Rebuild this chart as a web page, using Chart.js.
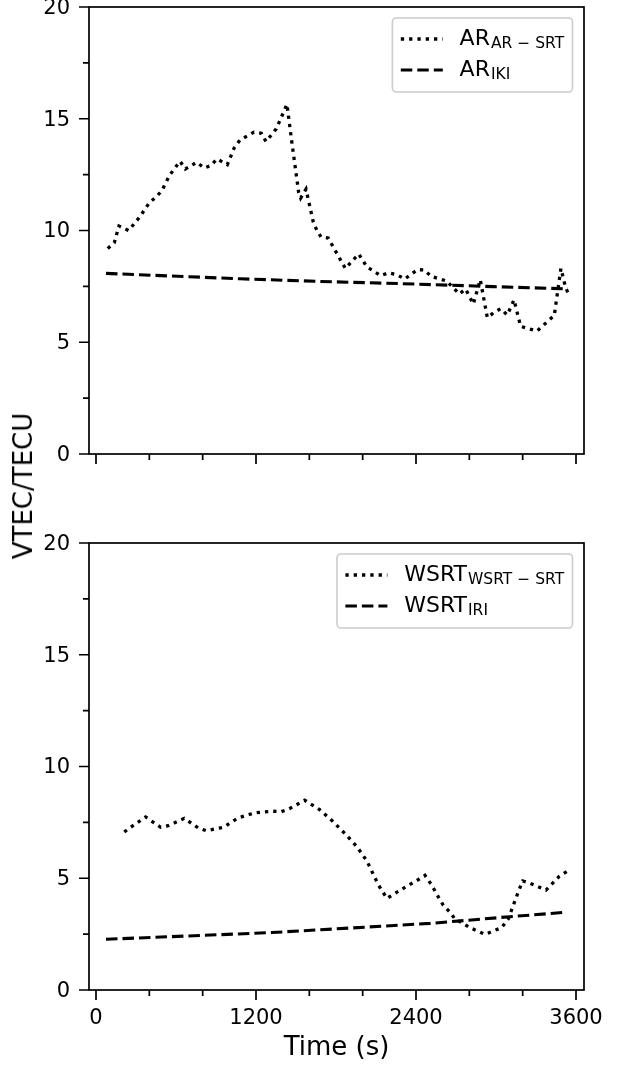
<!DOCTYPE html>
<html lang="en">
<head>
    <meta charset="UTF-8">
    <title>VTEC AR / WSRT</title>
    <script src="https://cdn.jsdelivr.net/npm/chart.js"></script>
    <style>
        body {
            margin: 0;
            background: #fff;
            font-family: "DejaVu Sans", sans-serif;
        }

        .figure {
            position: relative;
            width: 618px;
            height: 1065px;
            overflow: hidden;
            background: #fff;
        }

        .figure canvas {
            position: absolute;
            left: 0;
        }

        #topChart { top: -10px; }
        #bottomChart { top: 500px; }

        .ylabel {
            position: absolute;
            left: 23px;
            top: 486px;
            transform: translate(-50%, -50%) rotate(-90deg);
            font-size: 26px;
            line-height: 1;
            white-space: nowrap;
            color: #000;
        }
    </style>
</head>
<body>
    <div class="figure">
        <canvas id="topChart" width="618" height="500"></canvas>
        <canvas id="bottomChart" width="618" height="565"></canvas>
        <div class="ylabel">VTEC/TECU</div>
    </div>

    <script>
        // axis ticks
        const xTicks = [0, 400, 800, 1200, 1600, 2000, 2400, 2800, 3200, 3600];
        const yTicks = [0, 2.5, 5, 7.5, 10, 12.5, 15, 17.5, 20];

        // AR station (top panel)
        const arTime = [88, 137, 172, 207, 245, 327, 402, 452, 495, 552, 630, 670, 755, 812, 860, 907, 985, 1037, 1080, 1185, 1240, 1275, 1352, 1407, 1432, 1467, 1520, 1535, 1575, 1630, 1657, 1687, 1742, 1870, 1970, 2032, 2135, 2195, 2257, 2315, 2412, 2465, 2512, 2630, 2725, 2772, 2830, 2882, 2935, 2982, 3035, 3085, 3135, 3185, 3307, 3437, 3487, 3520, 3543];
        const arSrt = [9.2, 9.45, 10.2, 10.1, 10.0, 10.6, 11.26, 11.5, 11.8, 12.47, 13.1, 12.75, 13.05, 12.8, 12.9, 13.2, 12.95, 13.7, 14.05, 14.4, 14.35, 13.98, 14.55, 15.3, 15.65, 14.03, 11.7, 11.45, 11.85, 10.37, 10.0, 9.71, 9.66, 8.3, 8.95, 8.37, 7.98, 8.11, 8.02, 7.83, 8.25, 8.23, 7.95, 7.74, 7.16, 7.38, 6.71, 7.8, 6.1, 6.32, 6.5, 6.22, 6.9, 5.71, 5.5, 6.2, 8.3, 7.5, 7.15];
        const arIriTime = [75, 1080, 1680, 2300, 2980, 3540];
        const arIri = [8.08, 7.84, 7.72, 7.62, 7.49, 7.39];

        // WSRT station (bottom panel)
        const wsTime = [212, 267, 372, 485, 542, 662, 772, 827, 957, 1067, 1192, 1322, 1390, 1450, 1565, 1677, 1775, 1867, 1957, 2032, 2117, 2182, 2297, 2412, 2467, 2517, 2567, 2605, 2655, 2692, 2742, 2805, 2917, 3042, 3092, 3130, 3167, 3200, 3255, 3375, 3475, 3530];
        const wsSrt = [7.07, 7.31, 7.74, 7.28, 7.35, 7.68, 7.23, 7.13, 7.28, 7.7, 7.93, 8.0, 7.98, 8.11, 8.49, 8.07, 7.55, 7.0, 6.41, 5.77, 4.71, 4.1, 4.52, 4.92, 5.13, 4.7, 4.17, 3.79, 3.48, 3.18, 3.02, 2.79, 2.49, 2.79, 3.18, 3.79, 4.39, 4.88, 4.78, 4.47, 5.09, 5.3];
        const wsIriTime = [75, 1320, 2505, 3105, 3530];
        const wsIri = [2.27, 2.57, 2.98, 3.28, 3.48];

        const FONT = '"DejaVu Sans"';
        const DOTTED = [3.3, 5.0];
        const DASHED = [11.5, 5];

        function toPoints(xs, ys) {
            return xs.map((x, i) => ({ x: x, y: ys[i] }));
        }

        // box, ticks (major + minor) drawn through the chart's own scales
        const framePlugin = {
            id: 'frame',
            afterDraw(chart) {
                const { ctx, chartArea: a, scales } = chart;
                ctx.save();
                ctx.strokeStyle = '#000';
                ctx.lineWidth = 1.7;
                ctx.beginPath();
                xTicks.forEach(v => {
                    const px = scales.x.getPixelForValue(v);
                    const len = v % 1200 === 0 ? 10 : 6;
                    ctx.moveTo(px, a.bottom);
                    ctx.lineTo(px, a.bottom + len);
                });
                yTicks.forEach(v => {
                    const py = scales.y.getPixelForValue(v);
                    const len = v % 5 === 0 ? 10 : 6;
                    ctx.moveTo(a.left, py);
                    ctx.lineTo(a.left - len, py);
                });
                ctx.stroke();
                ctx.strokeRect(a.left, a.top, a.right - a.left, a.bottom - a.top);
                ctx.restore();
            }
        };

        // legend with subscripts (matplotlib-like)
        const subLegendPlugin = {
            id: 'subLegend',
            afterDatasetsDraw(chart, args, opts) {
                const { ctx, chartArea: a } = chart;
                const mainFont = '22px ' + FONT;
                const subFont = '15.5px ' + FONT;
                ctx.save();
                let textW = 0;
                opts.items.forEach(it => {
                    ctx.font = mainFont;
                    let w = ctx.measureText(it.main).width;
                    ctx.font = subFont;
                    w += ctx.measureText(it.sub).width + 1;
                    textW = Math.max(textW, w);
                });
                const boxW = 8.4 + 42 + 16.8 + textW + 8.4;
                const boxH = 74;
                const right = a.right - 11.5;
                const left = right - boxW;
                const top = a.top + 11;

                ctx.beginPath();
                ctx.roundRect(left, top, boxW, boxH, 4);
                ctx.fillStyle = 'rgba(255,255,255,0.8)';
                ctx.fill();
                ctx.strokeStyle = '#cccccc';
                ctx.lineWidth = 1.6;
                ctx.stroke();

                opts.items.forEach((it, i) => {
                    const base = top + 27 + i * 31;
                    const ly = base - 6;
                    ctx.beginPath();
                    ctx.setLineDash(it.dash);
                    ctx.lineWidth = it.width;
                    ctx.lineCap = 'butt';
                    ctx.strokeStyle = '#000';
                    ctx.moveTo(left + 8.4, ly);
                    ctx.lineTo(left + 50.4, ly);
                    ctx.stroke();
                    ctx.setLineDash([]);

                    const tx = left + 67.2;
                    ctx.fillStyle = '#000';
                    ctx.textBaseline = 'alphabetic';
                    ctx.textAlign = 'left';
                    ctx.font = mainFont;
                    ctx.fillText(it.main, tx, base);
                    const mw = ctx.measureText(it.main).width;
                    ctx.font = subFont;
                    ctx.fillText(it.sub, tx + mw + 1, base + 3);
                });
                ctx.restore();
            }
        };

        function makePanel(id, datasets, legendItems, padTop, axisHeight, showX) {
            const ctx = document.getElementById(id).getContext('2d');
            return new Chart(ctx, {
                type: 'line',
                data: { datasets: datasets },
                plugins: [framePlugin, subLegendPlugin],
                options: {
                    responsive: false,
                    animation: false,
                    devicePixelRatio: 1,
                    layout: { padding: { left: 0, right: 34, top: padTop, bottom: 0 } },
                    plugins: {
                        legend: { display: false },
                        tooltip: { enabled: false },
                        subLegend: { items: legendItems }
                    },
                    scales: {
                        x: {
                            type: 'linear',
                            min: -52.5,
                            max: 3660,
                            grid: { display: false, drawTicks: false },
                            border: { display: false },
                            afterBuildTicks: s => { s.ticks = xTicks.map(v => ({ value: v })); },
                            afterFit: s => {
                                s.height = axisHeight;
                                s.paddingLeft = 0;
                                s.paddingRight = 0;
                            },
                            ticks: {
                                display: showX,
                                autoSkip: false,
                                maxRotation: 0,
                                padding: 16,
                                color: '#000',
                                font: { family: FONT, size: 21 },
                                callback: v => (v % 1200 === 0 ? String(v) : '')
                            },
                            title: {
                                display: showX,
                                text: 'Time (s)',
                                color: '#000',
                                font: { family: FONT, size: 26 },
                                padding: { top: 0, bottom: 1 }
                            }
                        },
                        y: {
                            min: 0,
                            max: 20,
                            grid: { display: false, drawTicks: false },
                            border: { display: false },
                            afterBuildTicks: s => { s.ticks = yTicks.map(v => ({ value: v })); },
                            afterFit: s => {
                                s.width = 89;
                                s.paddingTop = 0;
                                s.paddingBottom = 0;
                            },
                            ticks: {
                                padding: 19,
                                labelOffset: 1.5,
                                color: '#000',
                                font: { family: FONT, size: 21 },
                                callback: v => (v % 5 === 0 ? String(v) : '')
                            }
                        }
                    }
                }
            });
        }

        function lineSet(label, points, dash, width) {
            return {
                label: label,
                data: points,
                borderColor: '#000',
                borderWidth: width,
                borderDash: dash,
                borderCapStyle: 'butt',
                pointRadius: 0,
                tension: 0,
                fill: false
            };
        }

        makePanel('topChart', [
            lineSet('AR AR-SRT', toPoints(arTime, arSrt), DOTTED, 3.3),
            lineSet('AR IKI', toPoints(arIriTime, arIri), DASHED, 3.1)
        ], [
            { main: 'AR', sub: 'AR \u2212 SRT', dash: DOTTED, width: 3.3 },
            { main: 'AR', sub: 'IKI', dash: DASHED, width: 3.1 }
        ], 17, 36, false);

        makePanel('bottomChart', [
            lineSet('WSRT WSRT-SRT', toPoints(wsTime, wsSrt), DOTTED, 3.3),
            lineSet('WSRT IRI', toPoints(wsIriTime, wsIri), DASHED, 3.1)
        ], [
            { main: 'WSRT', sub: 'WSRT \u2212 SRT', dash: DOTTED, width: 3.3 },
            { main: 'WSRT', sub: 'IRI', dash: DASHED, width: 3.1 }
        ], 43, 75, true);
    </script>
</body>
</html>
